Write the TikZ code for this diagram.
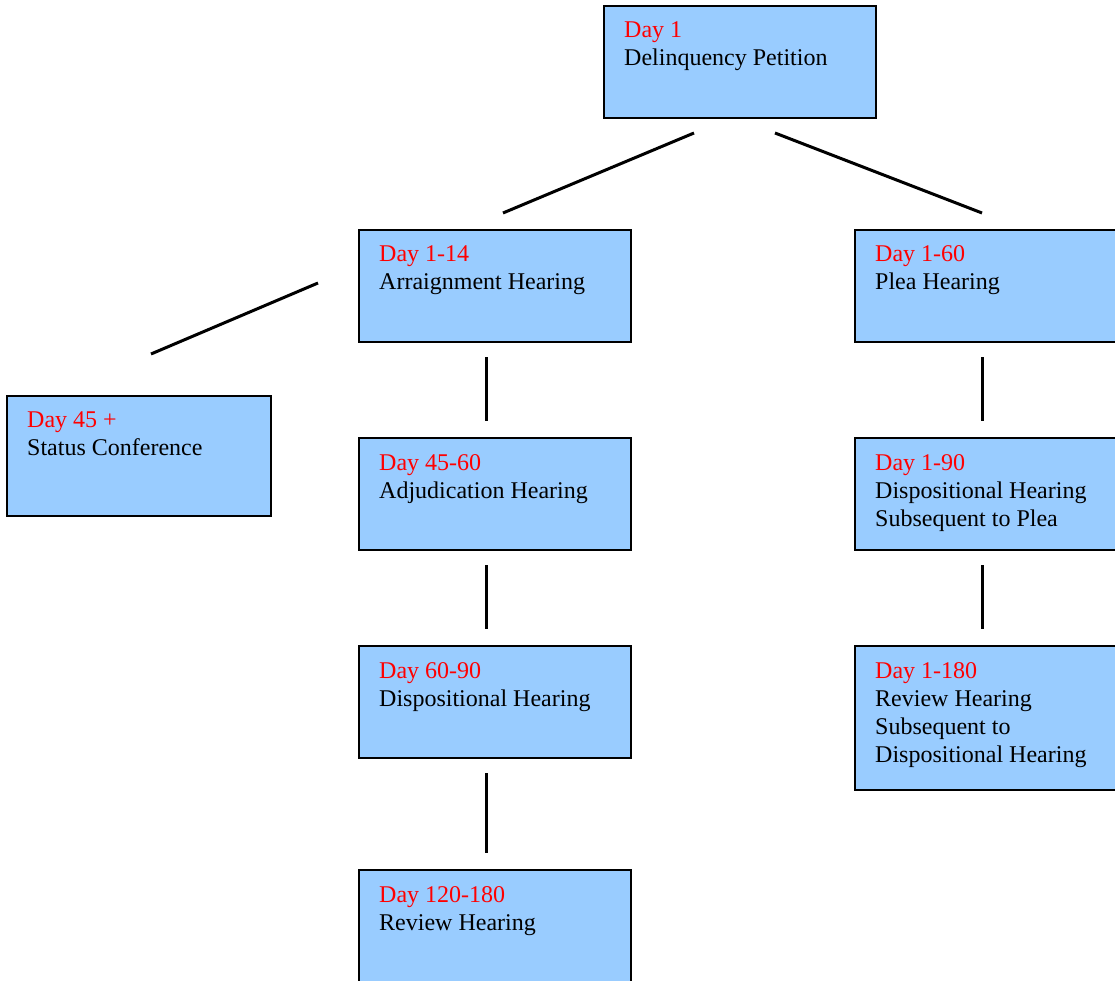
\documentclass[tikz,border=0pt]{standalone}
\usepackage{fontspec}
\setmainfont{Liberation Serif}
\usetikzlibrary{calc}
\definecolor{boxblue}{HTML}{99CCFF}
\definecolor{dayred}{HTML}{FF0000}
\begin{document}
\begin{tikzpicture}[x=1pt,y=-1pt,
  stagebox/.style={draw=black, line width=2pt, fill=boxblue, inner sep=0pt,
    minimum width=272pt, minimum height=112pt, anchor=north west},
  conn/.style={draw=black, line width=3pt},
  lbl/.style={anchor=base west, inner sep=0pt, font=\fontsize{24}{28}\selectfont},
  daylbl/.style={lbl, text=dayred}]
\path[use as bounding box] (0,0) rectangle (1115,981);
\clip (0,0) rectangle (1115,981);

% boxes
\node[stagebox] (d1) at (603,5) {};
\node[stagebox] (arr) at (358,229) {};
\node[stagebox] (plea) at (854,229) {};
\node[stagebox, minimum width=264pt, minimum height=120pt] (stat) at (6,395) {};
\node[stagebox] (adj) at (358,437) {};
\node[stagebox] (dsp) at (854,437) {};
\node[stagebox] (dis) at (358,645) {};
\node[stagebox, minimum height=144pt] (rev1) at (854,645) {};
\node[stagebox] (rev2) at (358,869) {};

% texts
\node[daylbl] (d1a) at ($(d1.north west)+(21,33)$) {Day 1};
\node[lbl] (d1b) at ($(d1.north west)+(21,61)$) {Delinquency Petition};

\node[daylbl] (arra) at ($(arr.north west)+(21,33)$) {Day 1-14};
\node[lbl] (arrb) at ($(arr.north west)+(21,61)$) {Arraignment Hearing};

\node[daylbl] (pleaa) at ($(plea.north west)+(21,33)$) {Day 1-60};
\node[lbl] (pleab) at ($(plea.north west)+(21,61)$) {Plea Hearing};

\node[daylbl] (stata) at ($(stat.north west)+(21,32)$) {Day 45 +};
\node[lbl] (statb) at ($(stat.north west)+(21,60)$) {Status Conference};

\node[daylbl] (adja) at ($(adj.north west)+(21,33)$) {Day 45-60};
\node[lbl] (adjb) at ($(adj.north west)+(21,61)$) {Adjudication Hearing};

\node[daylbl] (dspa) at ($(dsp.north west)+(21,33)$) {Day 1-90};
\node[lbl] (dspb) at ($(dsp.north west)+(21,61)$) {Dispositional Hearing};
\node[lbl] (dspc) at ($(dsp.north west)+(21,89)$) {Subsequent to Plea};

\node[daylbl] (disa) at ($(dis.north west)+(21,33)$) {Day 60-90};
\node[lbl] (disb) at ($(dis.north west)+(21,61)$) {Dispositional Hearing};

\node[daylbl] (rev1a) at ($(rev1.north west)+(21,33)$) {Day 1-180};
\node[lbl] (rev1b) at ($(rev1.north west)+(21,61)$) {Review Hearing};
\node[lbl] (rev1c) at ($(rev1.north west)+(21,89)$) {Subsequent to};
\node[lbl] (rev1d) at ($(rev1.north west)+(21,117)$) {Dispositional Hearing};

\node[daylbl] (rev2a) at ($(rev2.north west)+(21,33)$) {Day 120-180};
\node[lbl] (rev2b) at ($(rev2.north west)+(21,61)$) {Review Hearing};

% connector end points
\coordinate (p1) at (694,133);
\coordinate (p2) at (503,213);
\coordinate (p3) at (775,133);
\coordinate (p4) at (982,213);
\coordinate (p5) at (318,283);
\coordinate (p6) at (151,354);
\coordinate (p7) at (486,357);
\coordinate (p8) at (486,421);
\coordinate (p9) at (486,565);
\coordinate (p10) at (486,629);
\coordinate (p11) at (486,773);
\coordinate (p12) at (486,853);
\coordinate (p13) at (982,357);
\coordinate (p14) at (982,421);
\coordinate (p15) at (982,565);
\coordinate (p16) at (982,629);

\draw[conn] (p1) -- (p2);
\draw[conn] (p3) -- (p4);
\draw[conn] (p5) -- (p6);
\draw[conn] (p7) -- (p8);
\draw[conn] (p9) -- (p10);
\draw[conn] (p11) -- (p12);
\draw[conn] (p13) -- (p14);
\draw[conn] (p15) -- (p16);
\end{tikzpicture}
\end{document}
